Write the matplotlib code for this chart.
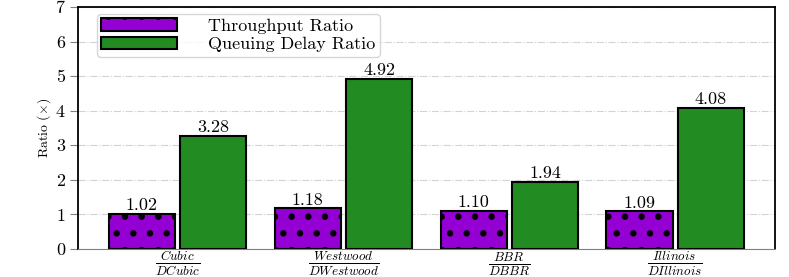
import matplotlib.pyplot as plt
import numpy as np

plt.rcParams['font.family'] = 'serif'
plt.rcParams['font.serif'] = ['cmr10', 'DejaVu Serif']
plt.rcParams['mathtext.fontset'] = 'cm'
plt.rcParams['axes.unicode_minus'] = False
plt.rcParams['hatch.linewidth'] = 2.2

labels = [r'$\frac{Cubic}{DCubic}$', r'$\frac{Westwood}{DWestwood}$',
          r'$\frac{BBR}{DBBR}$', r'$\frac{Illinois}{DIllinois}$']
throughput = [1.02, 1.18, 1.10, 1.09]
delay = [3.28, 4.92, 1.94, 4.08]

x = np.arange(len(labels))
w = 0.4

fig = plt.figure(figsize=(7.89, 2.77), dpi=100)
ax = fig.add_axes([0.099, 0.101, 0.883, 0.874])

ax.grid(axis='y', linestyle='-.', color='lightgray', linewidth=0.8, zorder=0)
b1 = ax.bar(x - 0.215, throughput, w, color='darkviolet', edgecolor='black',
            linewidth=1.5, hatch='.', label='Throughput Ratio', zorder=3)
b2 = ax.bar(x + 0.215, delay, w, color='forestgreen', edgecolor='black',
            linewidth=1.5, label='Queuing Delay Ratio', zorder=3)

for bars in (b1, b2):
    for b in bars:
        ax.text(b.get_x() + b.get_width() / 2, b.get_height() + 0.02,
                '%.2f' % b.get_height(), ha='center', va='bottom', fontsize=13)

ax.set_xlim(-0.6, 3.6)
ax.set_ylim(0, 7)
ax.set_yticks(range(8))
ax.set_xticks(x)
ax.set_xticklabels(labels, fontsize=13.5)
ax.tick_params(axis='x', length=0, pad=0.5)
ax.tick_params(axis='y', labelsize=13, color='gray', length=6)
ax.set_ylabel(r'Ratio ($\times$)', fontsize=10, labelpad=2)
ax.spines['bottom'].set_color('gray')
for s in ['left', 'right', 'top']:
    ax.spines[s].set_linewidth(1.3)

ax.legend(loc='upper left', bbox_to_anchor=(0.027, 0.971), fontsize=13,
          handlelength=4.2, handleheight=0.7, labelspacing=0.15,
          borderpad=0.25, handletextpad=1.7, borderaxespad=0, framealpha=0.8)

fig.savefig('out.png', dpi=100)
